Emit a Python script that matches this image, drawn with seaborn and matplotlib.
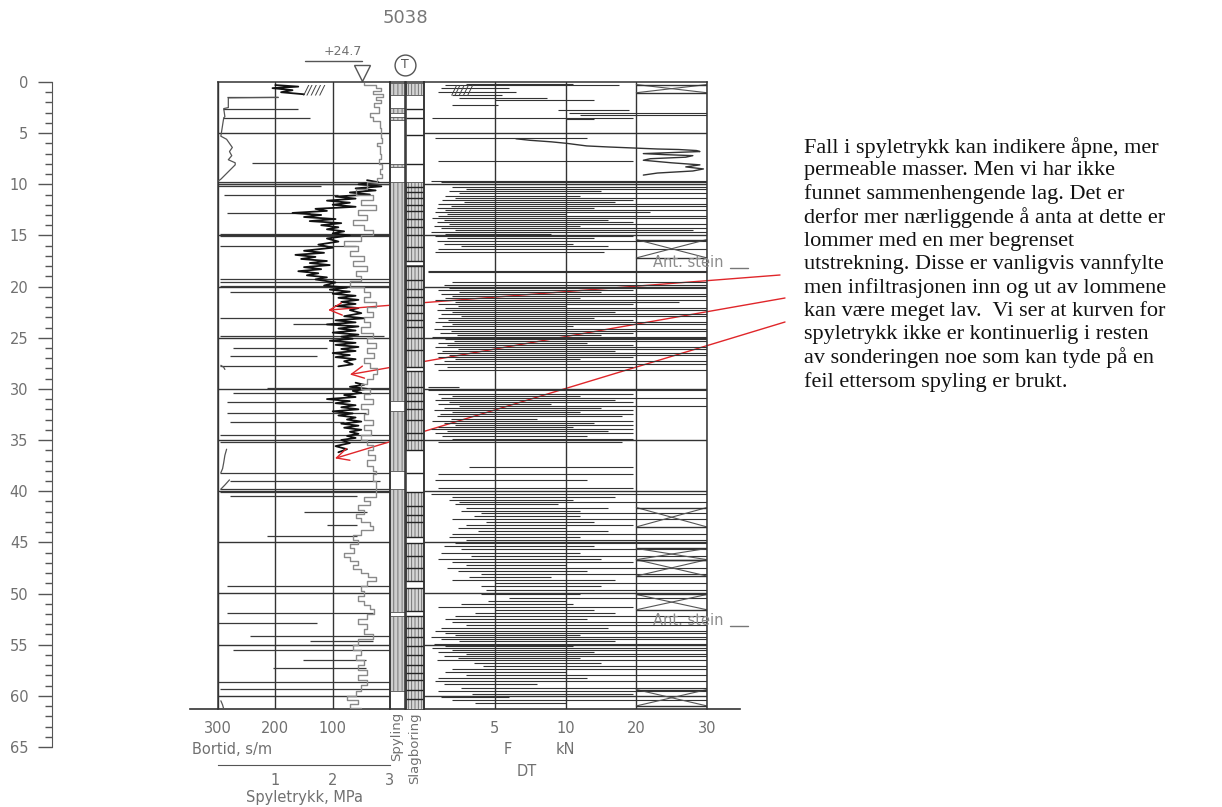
import numpy as np
import pandas as pd
import matplotlib.pyplot as plt
import seaborn as sns

# Set style
sns.set_style('white')
plt.rcParams['font.family'] = ['DejaVu Sans']
plt.rcParams['hatch.linewidth'] = 0.6

W, H = 1222, 807
D_MAX = 61.3
GRAY_TXT = '#707070'
LINE = '#333333'

depth_ticks = list(range(0, 66, 5))
grid_depths = list(range(5, 61, 5))
bortid_ticks = [300, 200, 100]
f_ticks = [5, 10, 20, 30]
spyle_ticks = [0, 1, 2, 3]
spyle_ticklabels = ['', '1', '2', '3']

# bortid (s/m), black trace
bt_top_depth = [0.3, 0.45, 0.6, 0.8, 1.0, 1.2]
bt_top = [200, 160, 205, 170, 190, 150]
bt_mid_depth = [9.6, 9.8, 10.0, 10.2, 10.4, 10.6, 10.8, 11.0, 11.2, 11.4, 11.6, 11.8,
                12.0, 12.2, 12.4, 12.6, 12.8, 13.0, 13.2, 13.4, 13.6, 13.8, 14.0, 14.2,
                14.4, 14.6, 14.8, 15.0, 15.3, 15.6, 15.9, 16.2, 16.5, 16.7, 16.9, 17.1,
                17.3, 17.5, 17.7, 17.9, 18.1, 18.3, 18.5, 18.7, 18.9, 19.1, 19.3, 19.6,
                19.9, 20.1, 20.3, 20.5, 20.7, 20.9, 21.1, 21.3, 21.5, 21.7, 21.9, 22.1,
                22.3, 22.6, 22.9, 23.1, 23.3, 23.5, 23.7, 23.9, 24.1, 24.3, 24.5, 24.7,
                24.9, 25.1, 25.3, 25.5, 25.7, 25.9, 26.1, 26.3, 26.5, 26.7, 26.9, 27.1,
                27.3, 27.6, 27.8]
bt_mid = [40, 20, 55, 15, 60, 25, 70, 35, 95, 60, 110, 70,
          100, 60, 130, 110, 170, 120, 150, 95, 140, 85, 120, 90,
          110, 80, 100, 70, 110, 90, 125, 100, 150, 115, 165, 130,
          155, 110, 140, 105, 150, 120, 160, 125, 145, 110, 130, 95,
          115, 75, 105, 70, 100, 60, 90, 55, 85, 60, 95, 55,
          70, 50, 80, 45, 95, 60, 110, 55, 90, 60, 100, 55,
          85, 65, 105, 60, 95, 55, 85, 60, 100, 70, 95, 60,
          80, 65, 90]
bt_low_depth = [29.4, 29.6, 29.8, 30.0, 30.2, 30.4, 30.6, 30.8, 31.0, 31.2, 31.4, 31.6,
                31.8, 32.0, 32.2, 32.4, 32.6, 32.8, 33.0, 33.2, 33.4, 33.6, 33.8, 34.0,
                34.2, 34.4, 34.6, 34.8, 35.0, 35.3, 35.6, 35.9, 36.2]
bt_low = [60, 45, 70, 40, 65, 50, 80, 60, 110, 70, 95, 60,
          85, 55, 100, 65, 90, 60, 75, 50, 85, 55, 80, 50,
          70, 55, 75, 60, 85, 70, 95, 75, 90]

# bortid excursions drawn as horizontal strokes: depth, from, to (s/m)
bt_spike_depth = [1.5, 2.6, 3.5, 7.9, 9.75, 9.95, 10.2, 11.0, 12.8, 14.85, 15.1, 16.0,
                  19.3, 19.6, 19.9, 20.5, 23.1, 23.7, 24.8, 26.0, 26.8, 27.8, 29.9, 30.4,
                  31.3, 32.4, 33.2, 34.5, 35.2, 38.2, 39.0, 39.8, 40.1, 40.5, 42.0, 43.3,
                  44.4, 49.3, 51.9, 52.9, 54.2, 54.7, 55.5, 56.5, 57.3, 58.7, 59.3]
bt_spike_from = [285, 292, 292, 240, 300, 300, 300, 290, 285, 297, 297, 297,
                 297, 297, 297, 279, 297, 169, 297, 274, 279, 297, 215, 274,
                 284, 284, 279, 297, 297, 297, 279, 297, 297, 279, 150, 110,
                 215, 284, 284, 300, 244, 140, 274, 151, 204, 300, 297]
bt_spike_to = [195, 160, 140, 0, 0, 0, 120, 90, 140, 0, 0, 60,
               0, 0, 0, 99, 99, 87, 10, 110, 128, 99, 0, 0,
               99, 41, 81, 0, 6, 0, 17, 0, 0, 58, 40, 58,
               58, 0, 29, 128, 0, 29, 0, 41, 41, 0, 0]

# spyletrykk (MPa), grey trace
sp_depth = [0.05, 0.3, 0.6, 0.9, 1.2, 1.5, 1.8, 2.1, 2.4, 3.0, 3.4, 3.8, 4.5, 5.5, 6.0,
            6.3, 7.0, 7.5, 8.0, 8.5, 9.0, 9.4, 9.8, 10.5, 11.0, 11.5, 12.0, 12.5, 13.0,
            13.5, 14.0, 14.5, 15.0, 15.5, 16.0, 16.5, 17.0, 17.5, 18.0, 18.5, 19.0, 19.5,
            20.0, 20.5, 21.0, 21.5, 22.0, 22.5, 23.0, 23.5, 24.0, 24.5, 25.0, 25.5, 26.0,
            26.5, 27.0, 27.5, 28.0, 28.5, 29.0, 29.5, 30.0, 30.5, 31.0, 31.5, 32.0, 32.5,
            33.0, 33.5, 34.0, 34.5, 35.0, 35.5, 36.0, 36.5, 37.0, 37.5, 38.0, 38.3, 39.0,
            40.6, 41.0, 41.4, 41.8, 42.2, 42.6, 43.0, 43.4, 43.8, 44.3, 44.8, 45.2, 45.6,
            46.0, 46.4, 46.8, 47.2, 47.6, 48.0, 48.4, 48.8, 49.3, 49.8, 50.3, 50.7, 51.1,
            51.5, 52.0, 52.5, 53.0, 53.5, 54.0, 54.5, 55.0, 55.5, 56.0, 56.5, 57.0, 57.5,
            58.0, 58.5, 59.0, 59.5, 60.0, 60.4, 60.8, 61.2]
sp_val = [2.55, 2.75, 2.85, 2.7, 2.88, 2.75, 2.85, 2.72, 2.8, 2.65, 2.7, 2.82, 2.85, 2.86, 2.78,
          2.82, 2.84, 2.8, 2.86, 2.82, 2.86, 2.78, 2.6, 2.4, 2.7, 2.5, 2.75, 2.45, 2.6,
          2.35, 2.55, 2.7, 2.5, 2.2, 2.45, 2.3, 2.55, 2.35, 2.6, 2.4, 2.5, 2.3,
          2.55, 2.65, 2.55, 2.75, 2.6, 2.7, 2.55, 2.65, 2.5, 2.7, 2.6, 2.75, 2.6,
          2.72, 2.55, 2.65, 2.78, 2.7, 2.6, 2.5, 2.65, 2.55, 2.7, 2.5, 2.62, 2.55,
          2.7, 2.55, 2.66, 2.5, 2.6, 2.7, 2.62, 2.74, 2.6, 2.7, 2.75, 2.7, 2.75,
          2.55, 2.65, 2.45, 2.55, 2.4, 2.5, 2.65, 2.7, 2.5, 2.35, 2.45, 2.3, 2.38,
          2.2, 2.3, 2.45, 2.35, 2.5, 2.62, 2.75, 2.6, 2.5, 2.55, 2.45, 2.55, 2.65,
          2.72, 2.6, 2.45, 2.6, 2.55, 2.7, 2.45, 2.35, 2.5, 2.4, 2.55, 2.45, 2.6,
          2.45, 2.6, 2.5, 2.4, 2.25, 2.45, 2.3, 2.5]

# low spyletrykk sections near the left edge (MPa)
lt1_depth = [1.5, 1.55, 2.5, 2.6, 3.4, 3.5, 5.3, 5.6, 6.0, 6.4, 6.8, 7.2, 7.6, 7.9, 8.1, 9.5, 9.7]
lt1 = [1.05, 0.18, 0.18, 0.1, 0.12, 0.1, 0.05, 0.15, 0.2, 0.25, 0.2, 0.24, 0.18, 0.3, 0.3, 0.05, 0.0]
lt2_depth = [27.7, 27.9, 28.1]
lt2 = [0.05, 0.1, 0.12]
lt3_depth = [35.9, 36.5, 37.2, 37.8, 38.2]
lt3 = [0.15, 0.12, 0.1, 0.08, 0.05]
lt4_depth = [38.9, 39.4, 39.8]
lt4 = [0.2, 0.12, 0.05]
lt5_depth = [60.5, 60.9, 61.3]
lt5 = [0.05, 0.08, 0.1]

# spyling / slagboring columns
spyling_from = [0.1, 2.5, 3.4, 8.0, 9.8, 32.2, 39.8, 52.2]
spyling_to = [1.3, 3.0, 3.7, 8.3, 31.2, 38.0, 51.8, 59.5]
slag_from = [0.1, 9.8, 17.9, 28.3, 40.1, 45.1, 49.5, 52.2]
slag_to = [1.3, 17.5, 27.9, 36.0, 44.5, 48.8, 51.7, 61.3]
slag_lines = [2.6, 3.5, 5.2, 8.0, 10.3, 10.8, 11.3, 12.0, 12.6, 13.4, 14.2, 15.0, 16.1,
              17.5, 18.0, 19.4, 20.2, 21.0, 21.8, 22.6, 23.3, 24.0, 25.0, 26.2, 27.9,
              28.3, 29.8, 30.4, 31.2, 32.0, 33.0, 34.3, 35.0, 36.0, 38.2, 40.1, 41.5,
              42.3, 43.0, 44.5, 45.1, 46.3, 47.5, 48.8, 49.5, 51.7, 52.2, 53.4, 54.3,
              55.1, 56.0, 57.0, 57.8, 58.5, 59.4, 60.3]

# F (kN) strokes: depth, low end, high end
f_depth = [0.15, 0.3, 0.55, 0.95, 1.25, 1.6, 1.75, 2.2, 2.75, 3.05, 3.2, 3.5, 3.6, 5.45,
           7.75, 9.65, 9.8, 10.0, 10.3, 10.5, 10.7, 10.9, 11.1, 11.3, 11.5, 11.7, 11.9,
           12.1, 12.3, 12.5, 12.7, 12.9, 13.1, 13.3, 13.5, 13.7, 13.9, 14.1, 14.3, 14.5,
           14.7, 14.9, 15.1, 15.3, 15.5, 15.8, 16.0, 16.3, 16.6, 18.45, 18.55, 19.55,
           19.8, 20.1, 20.3, 20.5, 20.7, 20.9, 21.1, 21.3, 21.5, 21.7, 21.9, 22.1, 22.3,
           22.5, 22.7, 22.9, 23.1, 23.3, 23.5, 23.7, 23.9, 24.1, 24.3, 24.5, 24.7, 24.9,
           25.1, 25.3, 25.5, 25.7, 25.9, 26.1, 26.3, 26.5, 26.7, 26.9, 27.1, 27.3, 27.6,
           27.9, 28.2, 29.8, 30.15, 30.5, 30.7, 30.9, 31.1, 31.3, 31.5, 31.7, 31.9, 32.1,
           32.3, 32.5, 32.7, 32.9, 33.1, 33.3, 33.5, 33.7, 33.9, 34.1, 34.3, 34.6, 34.9,
           35.2, 37.6, 38.35, 38.9, 39.7, 40.3, 40.6, 40.9, 41.1, 41.3, 41.6, 41.9, 42.1,
           42.4, 42.7, 43.0, 43.3, 43.6, 43.9, 44.2, 44.5, 44.8, 45.1, 45.4, 45.7, 46.0,
           46.3, 46.6, 46.9, 47.2, 47.5, 47.8, 48.1, 48.4, 48.7, 49.0, 49.3, 49.7, 50.1,
           50.4, 50.7, 51.0, 51.3, 51.6, 51.9, 52.2, 52.5, 52.8, 53.1, 53.4, 53.7, 53.9,
           54.1, 54.3, 54.5, 54.7, 54.9, 55.1, 55.3, 55.5, 55.7, 55.9, 56.1, 56.3, 56.5,
           56.8, 57.1, 57.4, 57.7, 58.0, 58.3, 58.6, 58.9, 59.2, 59.5, 59.8, 60.1, 60.4,
           60.7]
f_lo = [3, 1.5, 1.2, 1.0, 2.0, 2.5, 5, 2.0, 9.5, 10.5, 12, 0.6, 10, 0.8,
        1.0, 0.5, 1.2, 2.5, 2.0, 3.0, 1.8, 2.5, 1.5, 2.2, 1.3, 2.8, 1.0,
        1.9, 0.9, 1.5, 0.8, 1.6, 1.0, 0.6, 1.4, 0.9, 1.8, 0.7, 1.2, 2.2,
        0.5, 1.5, 0.8, 1.6, 0.9, 1.4, 2.6, 1.0, 0.8, 0.3, 0.3, 2.0,
        1.4, 1.8, 1.0, 2.5, 1.2, 2.0, 1.5, 0.8, 2.2, 1.0, 2.4, 1.5, 0.9,
        2.0, 1.2, 2.6, 1.0, 1.7, 0.8, 2.0, 1.3, 0.7, 1.9, 1.1, 2.3, 0.6,
        1.5, 2.1, 1.0, 1.6, 0.8, 2.4, 1.3, 0.9, 1.8, 1.0, 2.2, 1.4, 0.7,
        1.6, 1.0, 0.3, 0.3, 1.0, 2.0, 1.2, 0.8, 1.8, 1.0, 2.5, 1.4, 0.7,
        2.0, 1.1, 0.9, 1.9, 0.6, 1.4, 2.2, 1.0, 0.5, 1.6, 0.8, 1.3, 2.0,
        1.0, 3.2, 1.0, 0.8, 1.0, 0.5, 2.0, 1.8, 2.5, 2.2, 3.0, 2.6, 4.0,
        3.5, 2.0, 4.4, 3.0, 2.4, 3.8, 2.0, 1.8, 3.0, 2.2, 1.4, 2.6, 1.2,
        3.3, 1.0, 2.0, 3.0, 1.6, 2.4, 4.0, 3.2, 2.0, 5.0, 4.0, 4.4, 4.0,
        6.0, 4.5, 2.6, 1.0, 5.0, 3.6, 2.2, 1.5, 2.0, 3.0, 1.2, 0.8, 1.5,
        2.2, 0.5, 1.2, 2.5, 0.7, 1.5, 0.6, 2.0, 1.0, 3.0, 1.4, 2.4, 0.9,
        3.5, 4.2, 2.0, 1.5, 3.0, 1.0, 0.8, 1.4, 2.6, 1.0, 3.4, 1.2, 2.0,
        3.6]
f_hi = [11, 17.5, 6, 6.5, 5.5, 8.7, 14, 5.2, 19, 30, 30, 19.6, 14, 13,
        19.6, 30, 30, 30, 30, 30, 15, 30, 12, 30, 19.6, 17, 30,
        30, 14, 30, 22, 10, 30, 30, 16, 19.6, 30, 12, 30, 28,
        30, 9, 19.6, 14, 30, 11, 16, 30, 15.5, 30, 30, 30,
        30, 30, 19.6, 15, 30, 30, 12, 30, 26, 19.6, 10, 30, 30,
        17, 30, 30, 14, 19.6, 30, 30, 11, 30, 30, 19.6, 15, 30,
        30, 30, 13, 19.6, 30, 30, 17, 30, 30, 19.6, 12, 30, 30,
        19.6, 30, 2.5, 30, 19.6, 12, 30, 17, 19.6, 9, 30, 15, 19.6,
        12, 19.6, 18, 8, 19.6, 14, 19.6, 11, 19.6, 16, 19.6, 13, 19.6,
        18, 19.6, 19.6, 13, 19.6, 30, 17, 11, 30, 9.5, 16, 12, 30,
        12, 30, 14, 19.6, 10, 16, 30, 12, 30, 30, 14, 30, 12,
        30, 15, 19.6, 10, 30, 13, 30, 9, 17, 30, 15, 30, 12,
        30, 10, 11, 19.6, 14, 17, 30, 13, 30, 30, 16, 30, 30,
        12, 30, 30, 17, 30, 11, 30, 30, 14, 30, 30, 12, 30,
        15, 30, 30, 10, 30, 13, 30, 8, 30, 30, 19.6, 6, 30,
        10]

# continuous F trace 5.5-9.1 m
ft_depth = [5.55, 5.7, 5.85, 6.0, 6.1, 6.25, 6.35, 6.45, 6.55, 6.6, 6.7, 6.8, 6.9, 7.0,
            7.1, 7.2, 7.35, 7.5, 7.65, 7.9, 8.1, 8.3, 8.5, 8.7, 8.9, 9.1]
ft_val = [6.5, 7.5, 9.0, 10.2, 11.3, 13, 16, 19.5, 23, 26, 28.5, 29, 25, 21,
          24, 28, 27, 22, 21, 25, 29, 27, 29.5, 28, 23, 21]

# DT rotation boxes (20-30 column)
dt_from = [0.25, 15.4, 41.6, 45.6, 46.7, 50.1, 59.4]
dt_to = [1.05, 17.2, 43.5, 46.7, 48.3, 51.6, 61.0]

stone_depths = [17.6, 52.6]

note_lines = [
    'Fall i spyletrykk kan indikere åpne, mer',
    'permeable masser. Men vi har ikke',
    'funnet sammenhengende lag. Det er',
    'derfor mer nærliggende å anta at dette er',
    'lommer med en mer begrenset',
    'utstrekning. Disse er vanligvis vannfylte',
    'men infiltrasjonen inn og ut av lommene',
    'kan være meget lav.  Vi ser at kurven for',
    'spyletrykk ikke er kontinuerlig i resten',
    'av sonderingen noe som kan tyde på en',
    'feil ettersom spyling er brukt.',
]
arrow_depths = [22.3, 28.6, 36.8]
arrow_bortid = [108, 70, 96]


def box(x0, y0, x1, y1):
    """pixel box -> figure fraction rect"""
    return [x0 / W, 1 - y1 / H, (x1 - x0) / W, (y1 - y0) / H]


def f_fwd(x):
    x = np.asarray(x, float)
    return np.where(x <= 10, x, 10 + (x - 10) / 2)


def f_inv(u):
    u = np.asarray(u, float)
    return np.where(u <= 10, u, 10 + (u - 10) * 2)


def segments(pairs):
    frames = []
    for i, (d, v) in enumerate(pairs):
        frames.append(pd.DataFrame({'depth': d, 'value': v, 'seg': i}))
    return pd.concat(frames, ignore_index=True)


def style_panel(ax):
    ax.set_facecolor('none')
    for side in ['left', 'right', 'top']:
        ax.spines[side].set_visible(True)
        ax.spines[side].set_color(LINE)
        ax.spines[side].set_linewidth(1.1)
    ax.spines['bottom'].set_visible(False)


fig = plt.figure(figsize=(W / 100, H / 100), dpi=100)

# baseline under all columns
ax_base = fig.add_axes(box(190, 82, 740, 709))
ax_base.set_facecolor('none')
for side in ['left', 'right', 'top']:
    ax_base.spines[side].set_visible(False)
ax_base.spines['bottom'].set_color(LINE)
ax_base.spines['bottom'].set_linewidth(1.2)
ax_base.set_xticks([])
ax_base.set_yticks([])

# depth scale
ax_d = fig.add_axes(box(52, 82, 53, 747))
ax_d.set_ylim(65, 0)
ax_d.set_facecolor('none')
for side in ['right', 'top', 'bottom']:
    ax_d.spines[side].set_visible(False)
ax_d.spines['left'].set_color('#555555')
ax_d.set_xticks([])
ax_d.set_yticks(depth_ticks)
ax_d.set_yticks(range(0, 66), minor=True)
ax_d.tick_params(axis='y', which='major', length=10, width=1, color='#555555',
                 labelsize=10.5, labelcolor=GRAY_TXT, pad=7, left=True)
ax_d.tick_params(axis='y', which='minor', length=5, width=1, color='#555555', left=True)

# bortid / spyletrykk column
ax_b = fig.add_axes(box(218, 82, 390, 709))
style_panel(ax_b)
ax_b.set_xlim(300, 0)
ax_b.set_ylim(D_MAX, 0)
ax_b.set_xticks(bortid_ticks)
ax_b.set_yticks(grid_depths)
ax_b.tick_params(axis='x', length=0, pad=8.5, labelsize=10.5, labelcolor=GRAY_TXT)
ax_b.tick_params(axis='y', length=0, labelleft=False)
ax_b.grid(True, color=LINE, lw=1.0)

ax_b.hlines(bt_spike_depth, bt_spike_from, bt_spike_to, color='#3a3a3a', lw=0.9)
bt = segments([(bt_top_depth, bt_top), (bt_mid_depth, bt_mid), (bt_low_depth, bt_low)])
sns.lineplot(data=bt, x='value', y='depth', units='seg', estimator=None, sort=False,
             orient='y', color='#111111', lw=1.3, ax=ax_b, legend=False)

ax_p = ax_b.twiny()
ax_p.set_xlim(0, 3)
ax_p.set_ylim(D_MAX, 0)
ax_p.axis('off')
sns.lineplot(x=sp_val, y=sp_depth, estimator=None, sort=False, orient='y',
             color='#8a8a8a', lw=1.0, drawstyle='steps-pre', ax=ax_p)
lt = segments([(lt1_depth, lt1), (lt2_depth, lt2), (lt3_depth, lt3),
               (lt4_depth, lt4), (lt5_depth, lt5)])
sns.lineplot(data=lt, x='value', y='depth', units='seg', estimator=None, sort=False,
             orient='y', color='#555555', lw=0.9, ax=ax_p, legend=False)

ax_b.set_xlabel('')
ax_b.set_ylabel('')
ax_b.text(150, 0.15, '/////', fontsize=9, color='#444444', va='top', ha='left',
          style='italic')

# ground level marker
ax_b.plot([148, 49], [-2.05, -2.05], color='#555555', lw=1, clip_on=False)
ax_b.plot([49], [-0.85], marker='v', ms=11, mfc='white', mec='#555555', mew=1,
          clip_on=False)
ax_b.text(82, -2.95, '+24.7', fontsize=9, color=GRAY_TXT, ha='center', va='center')

# spyling column
ax_sp = fig.add_axes(box(390, 82, 405, 709))
style_panel(ax_sp)
ax_sp.set_xlim(0, 1)
ax_sp.set_ylim(D_MAX, 0)
ax_sp.set_xticks([])
ax_sp.set_yticks([])
for d0, d1 in zip(spyling_from, spyling_to):
    ax_sp.axhspan(d0, d1, facecolor='#cfcfcf', edgecolor='#666666', hatch='||||', lw=0.7)
ax_sp.plot([1.0], [-1.65], marker='o', ms=15, mfc='white', mec='#555555', mew=1,
           clip_on=False)
ax_sp.text(1.0, -1.75, 'T', fontsize=9, color='#555555', ha='center', va='center')

# slagboring column
ax_sl = fig.add_axes(box(406, 82, 424, 709))
style_panel(ax_sl)
ax_sl.set_xlim(0, 1)
ax_sl.set_ylim(D_MAX, 0)
ax_sl.set_xticks([])
ax_sl.set_yticks([])
for d0, d1 in zip(slag_from, slag_to):
    ax_sl.axhspan(d0, d1, facecolor='#d6d6d6', edgecolor='#666666', hatch='|||||', lw=0.7)
ax_sl.hlines(slag_lines, 0, 1, color='#222222', lw=1.0)

# F / DT column
ax_f = fig.add_axes(box(424, 82, 707, 709))
style_panel(ax_f)
ax_f.set_xscale('function', functions=(f_fwd, f_inv))
ax_f.set_xlim(0, 30)
ax_f.set_ylim(D_MAX, 0)
ax_f.set_xticks(f_ticks)
ax_f.set_xticklabels([str(t) for t in f_ticks])
ax_f.set_yticks(grid_depths)
ax_f.tick_params(axis='x', length=0, pad=8.5, labelsize=10.5, labelcolor=GRAY_TXT)
ax_f.tick_params(axis='y', length=0, labelleft=False)
ax_f.grid(True, color=LINE, lw=1.0)
ax_f.xaxis.set_minor_locator(plt.NullLocator())

ax_f.hlines(f_depth, f_lo, f_hi, color='#333333', lw=0.8)
sns.lineplot(x=ft_val, y=ft_depth, estimator=None, sort=False, orient='y',
             color='#333333', lw=1.0, ax=ax_f)
for d0, d1 in zip(dt_from, dt_to):
    ax_f.plot([20, 30], [d0, d1], color='#555555', lw=0.8)
    ax_f.plot([20, 30], [d1, d0], color='#555555', lw=0.8)
    ax_f.hlines([d0, d1], 20, 30, color='#333333', lw=1.0)
ax_f.text(2.0, 0.15, '/////', fontsize=9, color='#444444', va='top', ha='left',
          style='italic')
for d in stone_depths:
    ax_f.text(22.3, d, 'Ant. stein', fontsize=10.5, color='#8c8c8c', va='center',
              ha='left', zorder=6)
    ax_f.plot([33.2, 35.8], [d + 0.55, d + 0.55], color='#777777', lw=1, clip_on=False)
ax_f.set_xlabel('')
ax_f.set_ylabel('')

# spyletrykk scale bar
ax_s = fig.add_axes(box(218, 764, 390, 765))
ax_s.set_facecolor('none')
for side in ['left', 'right', 'top']:
    ax_s.spines[side].set_visible(False)
ax_s.spines['bottom'].set_color('#555555')
ax_s.set_xlim(0, 3)
ax_s.set_yticks([])
ax_s.set_xticks(spyle_ticks)
ax_s.set_xticklabels(spyle_ticklabels)
ax_s.tick_params(axis='x', direction='inout', length=9, width=1, color='#555555',
                 labelsize=10.5, labelcolor=GRAY_TXT, pad=1)
ax_s.set_xlabel('Spyletrykk, MPa', fontsize=10.5, color=GRAY_TXT, labelpad=1.5)

# labels
fig.text(405 / W, 1 - 18 / H, '5038', fontsize=13, color='#777777', ha='center', va='center')
fig.text(192 / W, 1 - 750 / H, 'Bortid, s/m', fontsize=10.5, color=GRAY_TXT, ha='left', va='center')
fig.text(508 / W, 1 - 750 / H, 'F', fontsize=10.5, color=GRAY_TXT, ha='center', va='center')
fig.text(565 / W, 1 - 750 / H, 'kN', fontsize=10.5, color=GRAY_TXT, ha='center', va='center')
fig.text(527 / W, 1 - 771 / H, 'DT', fontsize=10.5, color=GRAY_TXT, ha='center', va='center')
fig.text(397 / W, 1 - 712 / H, 'Spyling', fontsize=9.5, color=GRAY_TXT, rotation=90,
         ha='center', va='top')
fig.text(415 / W, 1 - 712 / H, 'Slagboring', fontsize=9.5, color=GRAY_TXT, rotation=90,
         ha='center', va='top')

# note with arrows
fig.text(804 / W, 1 - 137 / H, '\n'.join(note_lines), fontsize=16,
         family=['Liberation Serif', 'DejaVu Serif'], color='#111111',
         ha='left', va='top', linespacing=1.24)
arrow_starts = [(780, 275), (785, 298), (785, 322)]
for (b, d), (sx, sy) in zip(zip(arrow_bortid, arrow_depths), arrow_starts):
    ax_b.annotate('', xy=(b, d), xytext=(sx / W, 1 - sy / H), textcoords='figure fraction',
                  annotation_clip=False,
                  arrowprops=dict(arrowstyle='->', color='#e0262a', lw=1.0,
                                  mutation_scale=22, shrinkA=0, shrinkB=0))

fig.savefig('out.png', dpi=100)
plt.close(fig)
